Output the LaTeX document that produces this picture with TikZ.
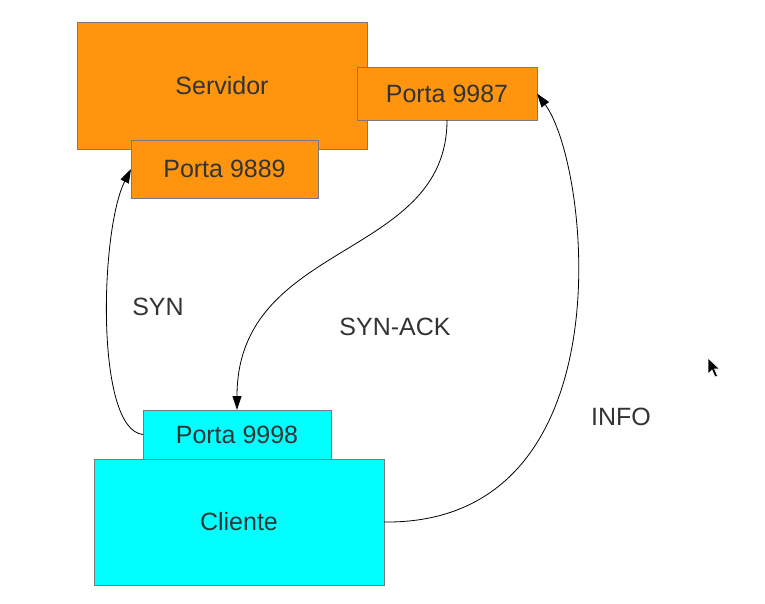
\documentclass[tikz,border=0pt]{standalone}
\usepackage{fontspec}
\setmainfont{Liberation Sans}
\usetikzlibrary{arrows.meta}
\definecolor{orangebox}{HTML}{FF950E}
\definecolor{cyanbox}{HTML}{00FFFF}
\definecolor{boxline}{HTML}{7A7A7A}
\definecolor{txt}{HTML}{333333}
\begin{document}
\begin{tikzpicture}[x=1pt,y=-1pt,
  box/.style={draw=boxline,line width=0.8pt,inner sep=0pt,outer sep=0pt,text=txt,
    font=\fontsize{25}{30}\selectfont},
  srv/.style={box,fill=orangebox},
  cli/.style={box,fill=cyanbox},
  conn/.style={line width=0.8pt,-{Triangle[length=14pt,width=9pt]}},
  lbl/.style={text=txt,font=\fontsize{25}{30}\selectfont}]
\useasboundingbox (0,0) rectangle (765,604);
\node[srv,minimum width=290pt,minimum height=127pt] (servidor) at (222,85.5) {Servidor};
\node[srv,minimum width=180pt,minimum height=53pt] (p9987) at (447,93.5) {Porta 9987};
\node[srv,minimum width=187pt,minimum height=58pt] (p9889) at (224.5,169) {Porta 9889};
\node[cli,minimum width=188pt,minimum height=49pt] (p9998) at (237,434.5) {Porta 9998};
\node[cli,minimum width=290pt,minimum height=126pt] (cliente) at (239,522) {Cliente};
\draw[conn] (p9998.west) .. controls (95,430) and (100,230) .. (p9889.west);
\draw[conn] (p9987.south) .. controls (447,260) and (237,240) .. (p9998.north);
\draw[conn] (cliente.east) .. controls (630,525) and (590,165) .. (p9987.east);
\node[lbl] (syn) at (158,307) {SYN};
\node[lbl] (synack) at (395,327) {SYN-ACK};
\node[lbl] (info) at (621,417) {INFO};
\fill[black,draw=white,line width=0.6pt] (708,358) -- (708,374) -- (712,370) -- (715,377) -- (717.5,376) -- (714.5,369) -- (719.5,369) -- cycle;
\end{tikzpicture}
\end{document}
